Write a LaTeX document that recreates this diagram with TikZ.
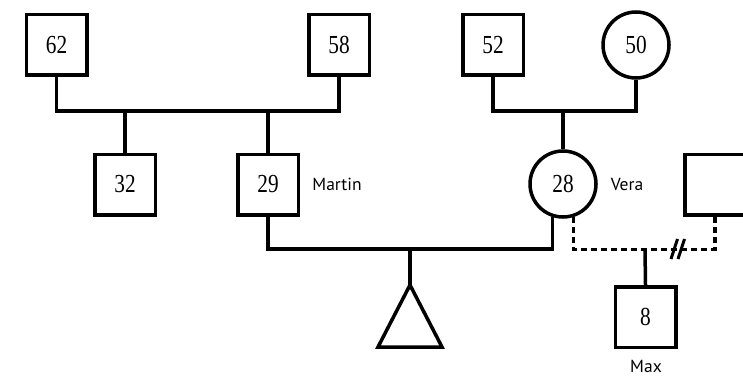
\documentclass[tikz,border=0pt]{standalone}
\usepackage{fontspec}
\newfontfamily\numfont[FakeStretch=0.82]{Liberation Serif}
\newfontfamily\lblfont{PT Sans}
\begin{document}
\begin{tikzpicture}[x=1pt,y=-1pt,
  line width=3.5pt,
  malebox/.style={draw,rectangle,minimum size=60.5pt,inner sep=0pt,font=\numfont\fontsize{26}{26}\selectfont},
  femcirc/.style={draw,circle,minimum size=66pt,inner sep=0pt,font=\numfont\fontsize{26}{26}\selectfont},
  namelbl/.style={font=\lblfont\fontsize{17.5}{18}\selectfont,inner sep=0pt},
  divorced/.style={dash pattern=on 6pt off 4pt},
  breakmark/.style={line width=3pt}]
\useasboundingbox (0,0) rectangle (743,377);
% grandparents
\node[malebox] (n62) at (56.5,45) {62};
\node[malebox] (n58) at (339,45) {58};
\node[malebox] (n52) at (493,45) {52};
\node[femcirc] (n50) at (636,45) {50};
% children
\node[malebox] (n32) at (125,184.5) {32};
\node[malebox] (n29) at (268,184.5) {29};
\node[femcirc] (n28) at (563,184) {28};
\node[malebox] (nR) at (715,184.5) {};
\node[malebox] (n8) at (645.5,317) {8};
% labels
\node[namelbl] (lMartin) at (337,184) {Martin};
\node[namelbl] (lVera) at (627,184) {Vera};
\node[namelbl,anchor=base] (lMax) at (646,372) {Max};
% coordinates
\coordinate (sibA) at (200,111);
\coordinate (sibB) at (563,111);
\coordinate (mar) at (410,249);
\coordinate (tri) at (410,285);
\coordinate (div) at (645,249.5);
% left family
\draw (n62.south) |- (sibA) -| (n58.south);
\draw (n32.north) -- (n32.north |- sibA);
\draw (n29.north) -- (n29.north |- sibA);
% right family
\draw (n52.south) |- (sibB) -| (n50.south);
\draw (n28.north) -- (sibB);
% marriage
\draw (n29.south) |- (mar) -| (n28.252);
\draw (mar) -- (tri);
\draw[line join=miter] (tri) -- ++(32,62) -- ++(-64,0) -- cycle;
% divorced relation
\draw[divorced] (n28.288) |- (div) -| (nR.south);
\draw (n8.north) -- (div);
\coordinate (brA) at (671,259);
\coordinate (brB) at (678,259);
\draw[breakmark] (brA) -- ++(6.5,-20);
\draw[breakmark] (brB) -- ++(6.5,-20);
\end{tikzpicture}
\end{document}
